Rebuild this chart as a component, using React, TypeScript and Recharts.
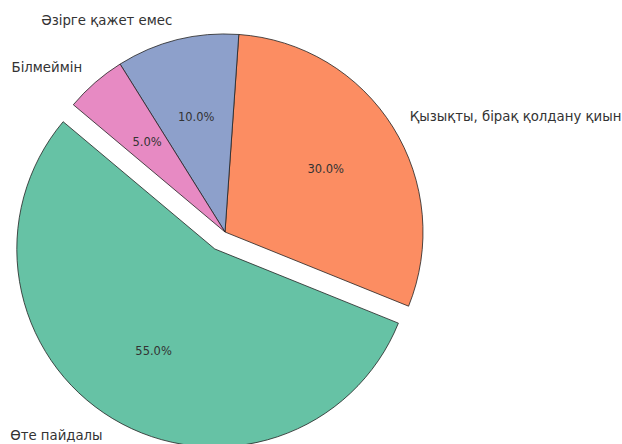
import { PieChart, Pie, Cell } from "recharts";

const categories = ["Өте пайдалы", "Қызықты, бірақ қолдану қиын", "Әзірге қажет емес", "Білмеймін"];
const shares = [55, 30, 10, 5];
const colors = ["#66c2a5", "#fc8d62", "#8da0cb", "#e78ac3"];
const explode = [0.1, 0, 0, 0];

const data = categories.map((name, i) => ({ name, value: shares[i] }));

const RADIAN = Math.PI / 180;
const CX = 225;
const CY = 232;
const R = 198;
const START = 140;

// mid angle of the exploded slice, used to shift the second pie
const total = shares.reduce((a, b) => a + b, 0);
const explodeIdx = explode.findIndex((e) => e > 0);
const before = shares.slice(0, explodeIdx).reduce((a, b) => a + b, 0);
const midExploded = START + ((before + shares[explodeIdx] / 2) / total) * 360;
const offX = Math.cos(midExploded * RADIAN) * explode[explodeIdx] * R;
const offY = -Math.sin(midExploded * RADIAN) * explode[explodeIdx] * R;

const makeLabel = (show: (i: number) => boolean) => (props: any) => {
  const { cx, cy, midAngle, outerRadius, percent, name, index } = props;
  if (!show(index)) return null;
  const cos = Math.cos(-midAngle * RADIAN);
  const sin = Math.sin(-midAngle * RADIAN);
  const lx = cx + outerRadius * 1.1 * cos;
  const ly = cy + outerRadius * 1.1 * sin;
  const px = cx + outerRadius * 0.6 * cos;
  const py = cy + outerRadius * 0.6 * sin;
  return (
    <g>
      <text x={lx} y={ly} fill="#333" fontSize={13.3} textAnchor={cos >= 0 ? "start" : "end"} dominantBaseline="central">
        {name}
      </text>
      <text x={px} y={py} fill="#333" fontSize={11.5} textAnchor="middle" dominantBaseline="central">
        {(percent * 100).toFixed(1)}%
      </text>
    </g>
  );
};

export default function App() {
  return (
    <div style={{ position: "fixed", left: 0, top: 0, background: "#fff", fontFamily: "'DejaVu Sans', sans-serif" }}>
      <PieChart width={622} height={444} margin={{ top: 0, right: 0, bottom: 0, left: 0 }}>
        <Pie
          data={data}
          dataKey="value"
          cx={CX}
          cy={CY}
          outerRadius={R}
          startAngle={START}
          endAngle={START + 360}
          labelLine={false}
          label={makeLabel((i) => explode[i] === 0)}
          isAnimationActive={false}
        >
          {data.map((_, i) => (
            <Cell
              key={`a-${i}`}
              fill={explode[i] === 0 ? colors[i] : "none"}
              stroke={explode[i] === 0 ? "#222" : "none"}
              strokeWidth={0.8}
            />
          ))}
        </Pie>
        <Pie
          data={data}
          dataKey="value"
          cx={CX + offX}
          cy={CY + offY}
          outerRadius={R}
          startAngle={START}
          endAngle={START + 360}
          labelLine={false}
          label={makeLabel((i) => explode[i] > 0)}
          isAnimationActive={false}
        >
          {data.map((_, i) => (
            <Cell
              key={`b-${i}`}
              fill={explode[i] > 0 ? colors[i] : "none"}
              stroke={explode[i] > 0 ? "#222" : "none"}
              strokeWidth={0.8}
            />
          ))}
        </Pie>
      </PieChart>
    </div>
  );
}
